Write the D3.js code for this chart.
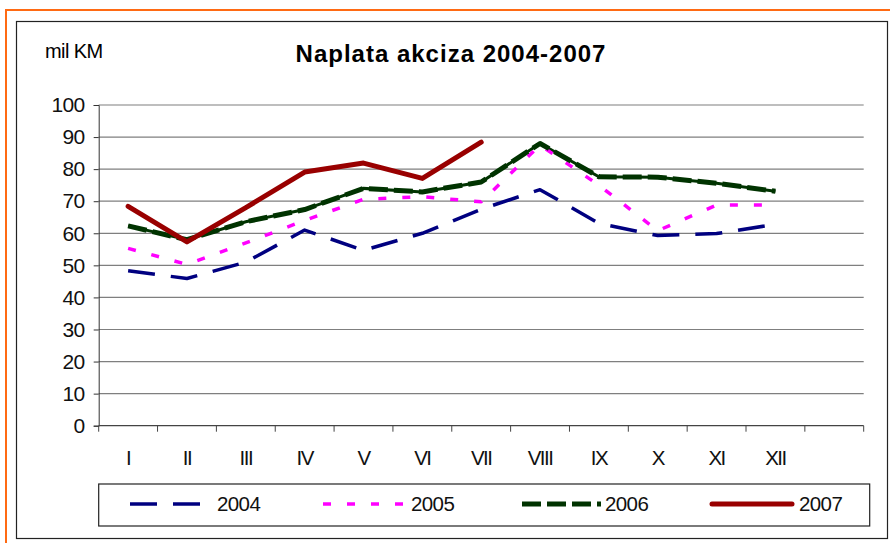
<!DOCTYPE html>
<html>
<head>
<meta charset="utf-8">
<script src="https://cdn.jsdelivr.net/npm/d3@7"></script>
<style>
  body { margin: 0; background: #fff; }
  svg { font-family: "Liberation Sans", Arial, sans-serif; }
</style>
</head>
<body>
<svg id="chart" width="890" height="543"></svg>
<script>
const months = ["I", "II", "III", "IV", "V", "VI", "VII", "VIII", "IX", "X", "XI", "XII", ""];
const years = ["2004", "2005", "2006", "2007"];
const v2004 = [48.3, 45.9, 51, 61, 54.7, 60, 67.5, 73.6, 63.1, 59.3, 59.9, 62.8];
const v2005 = [55.3, 50.3, 57, 64, 70.6, 71.4, 69.8, 87.5, 75, 60.8, 68.8, 68.8];
const v2006 = [62.3, 58, 63.6, 67.4, 74, 72.9, 76, 88, 77.6, 77.5, 75.6, 73.1];
const v2007 = [68.4, 57.3, 68, 79.1, 81.9, 77.1, 88.4];
const yTicks = [0, 10, 20, 30, 40, 50, 60, 70, 80, 90, 100];

const series = [
  { name: years[0], values: v2004, color: "#000080", width: 3.5, dash: "27,16", cap: "butt" },
  { name: years[1], values: v2005, color: "#FF00FF", width: 3.5, dash: "8,16", cap: "butt" },
  { name: years[2], values: v2006, color: "#003300", width: 5, dash: "19,6", cap: "butt", under: 3 },
  { name: years[3], values: v2007, color: "#990000", width: 5, dash: null, cap: "round" }
];

const svg = d3.select("#chart");
const plotL = 98.7, plotR = 863.7, plotT = 105, plotB = 425.7;

// outer orange and black frames
svg.append("path").attr("d", "M6,545V10H892")
  .attr("fill", "none").attr("stroke", "#FF6A13").attr("stroke-width", 2);
svg.append("rect").attr("x", 16.5).attr("y", 21.5).attr("width", 871).attr("height", 517)
  .attr("fill", "#fff").attr("stroke", "#222").attr("stroke-width", 1.2);

svg.append("text").attr("x", 451).attr("y", 62).attr("text-anchor", "middle")
  .attr("font-size", 24).attr("font-weight", "bold").attr("letter-spacing", 1)
  .text("Naplata akciza 2004-2007");
svg.append("text").attr("x", 45).attr("y", 58).attr("font-size", 20)
  .attr("letter-spacing", -0.6).text("mil KM");

const x = d3.scaleBand().domain(months).range([plotL, plotR]);
const y = d3.scaleLinear().domain([0, 100]).range([plotB, plotT]);

// gridlines
svg.append("g").selectAll("line").data(yTicks.filter(d => d > 0)).join("line")
  .attr("x1", plotL).attr("x2", plotR)
  .attr("y1", d => y(d)).attr("y2", d => y(d))
  .attr("stroke", "#7f7f7f").attr("stroke-width", 1.2);

// y axis
const yAxis = svg.append("g").attr("transform", `translate(${plotL},0)`)
  .call(d3.axisLeft(y).tickValues(yTicks).tickSize(5).tickPadding(9));
yAxis.select(".domain").attr("stroke", "#333");
yAxis.selectAll(".tick line").attr("stroke", "#333");
yAxis.selectAll("text").attr("font-size", 21).attr("letter-spacing", -0.6)
  .attr("fill", "#111").attr("font-family", "Liberation Sans, Arial");

// x axis baseline + boundary ticks
svg.append("line").attr("x1", plotL).attr("x2", plotR).attr("y1", plotB).attr("y2", plotB)
  .attr("stroke", "#444").attr("stroke-width", 1.2);
const bounds = months.map(m => x(m)).concat([x(months[months.length - 1]) + x.bandwidth()]);
svg.append("g").selectAll("line").data(bounds).join("line")
  .attr("x1", d => d).attr("x2", d => d).attr("y1", plotB).attr("y2", plotB + 6)
  .attr("stroke", "#444");
svg.append("g").selectAll("text").data(months).join("text")
  .attr("x", d => x(d) + x.bandwidth() / 2).attr("y", 465)
  .attr("text-anchor", "middle").attr("font-size", 20.5).attr("letter-spacing", -1.5)
  .attr("fill", "#111").text(d => d);

// lines
const line = d3.line()
  .defined(d => d != null)
  .x((d, i) => x(months[i]) + x.bandwidth() / 2)
  .y(d => y(d));

const lines = svg.append("g");
// thin solid core under the 2006 dashes gives the notched look
lines.selectAll("path.under").data(series.filter(d => d.under)).join("path")
  .attr("class", "under")
  .attr("d", d => line(d.values))
  .attr("fill", "none").attr("stroke", d => d.color).attr("stroke-width", d => d.under);
lines.selectAll("path.main").data(series).join("path")
  .attr("class", "main")
  .attr("d", d => line(d.values))
  .attr("fill", "none")
  .attr("stroke", d => d.color)
  .attr("stroke-width", d => d.width)
  .attr("stroke-dasharray", d => d.dash)
  .attr("stroke-linecap", d => d.cap)
  .attr("stroke-linejoin", "round");

// legend
svg.append("rect").attr("x", 98.7).attr("y", 484).attr("width", 771).attr("height", 42)
  .attr("fill", "#fff").attr("stroke", "#222").attr("stroke-width", 1.2);
const legendPos = [
  { x1: 130, x2: 203, tx: 217 },
  { x1: 323, x2: 405, tx: 411 },
  { x1: 522, x2: 601, tx: 605 },
  { x1: 712, x2: 792, tx: 799 }
];
const leg = svg.append("g").selectAll("g").data(series).join("g");
leg.append("line")
  .attr("x1", (d, i) => legendPos[i].x1).attr("x2", (d, i) => legendPos[i].x2)
  .attr("y1", 504).attr("y2", 504)
  .attr("stroke", d => d.color).attr("stroke-width", d => d.width)
  .attr("stroke-dasharray", d => d.dash).attr("stroke-linecap", d => d.cap);
leg.append("text")
  .attr("x", (d, i) => legendPos[i].tx).attr("y", 511)
  .attr("font-size", 20.5).attr("letter-spacing", -0.6).attr("fill", "#111")
  .text(d => d.name);
</script>
</body>
</html>
